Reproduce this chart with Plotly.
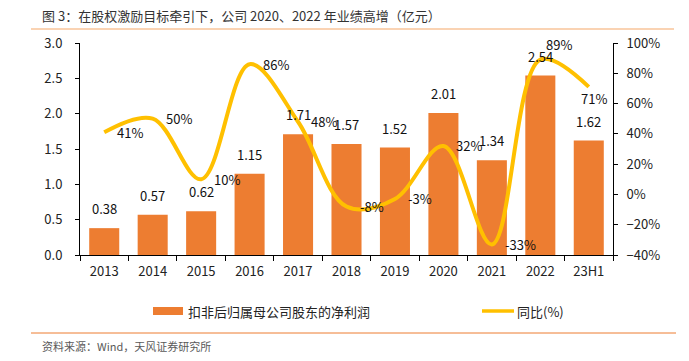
import plotly.graph_objects as go

categories = ["2013", "2014", "2015", "2016", "2017", "2018", "2019", "2020", "2021", "2022", "23H1"]
profit = [0.38, 0.57, 0.62, 1.15, 1.71, 1.57, 1.52, 2.01, 1.34, 2.54, 1.62]
yoy = [41, 50, 10, 86, 48, -8, -3, 32, -33, 89, 71]
bar_name = "扣非后归属母公司股东的净利润"
line_name = "同比(%)"
title_text = "图 3：在股权激励目标牵引下，公司 2020、2022 年业绩高增（亿元）"
source_text = "资料来源：Wind，天风证券研究所"

FW, FH = 689, 361
L, R, T, B = 80, 613, 43, 255
PW, PH = R - L, B - T


def px(x):
    return (x - L) / PW


def py(y):
    return (B - y) / PH


FONT = "Noto Sans CJK SC, Noto Sans, sans-serif"
BAR_C = "#ED7D31"
LINE_C = "#FFC000"

fig = go.Figure()
fig.add_trace(go.Bar(x=categories, y=profit, marker=dict(color=BAR_C, line=dict(width=0)),
                     name=bar_name, showlegend=False, yaxis="y", hoverinfo="skip"))
fig.add_trace(go.Scatter(x=categories, y=yoy, mode="lines", name=line_name,
                         line=dict(color=LINE_C, width=4, shape="spline", smoothing=1.0),
                         showlegend=False, yaxis="y2", hoverinfo="skip"))

ann = []
# bar labels
for i, v in enumerate(profit):
    ann.append(dict(x=i, y=v, xref="x", yref="y", text=f"{v:.2f}", showarrow=False,
                    xanchor="center", yanchor="bottom", yshift=8,
                    font=dict(size=13, color="#111111", family=FONT)))
# line labels
shifts = {9: (4, 15), 10: (-10, -12)}
for i, v in enumerate(yoy):
    xs, ys = shifts.get(i, (11, 0))
    ann.append(dict(x=i, y=v, xref="x", yref="y2", text=f"{v}%", showarrow=False,
                    xanchor="left", yanchor="middle", xshift=xs, yshift=ys,
                    font=dict(size=13, color="#111111", family=FONT)))
# title
ann.append(dict(x=px(40), y=py(15), xref="paper", yref="paper", text=title_text, showarrow=False,
                xanchor="left", yanchor="middle", font=dict(size=13, color="#333333", family=FONT)))
# source
ann.append(dict(x=px(40), y=py(346), xref="paper", yref="paper", text=source_text, showarrow=False,
                xanchor="left", yanchor="middle", font=dict(size=11, color="#595959", family=FONT)))
# legend texts
ann.append(dict(x=px(186), y=py(311), xref="paper", yref="paper", text=bar_name, showarrow=False,
                xanchor="left", yanchor="middle", font=dict(size=13, color="#222222", family=FONT)))
ann.append(dict(x=px(515), y=py(311), xref="paper", yref="paper", text=line_name, showarrow=False,
                xanchor="left", yanchor="middle", font=dict(size=13, color="#222222", family=FONT)))

shapes = [
    dict(type="line", xref="paper", yref="paper", x0=px(31), x1=px(674), y0=py(29), y1=py(29),
         line=dict(color="#F9C49A", width=1.5)),
    dict(type="line", xref="paper", yref="paper", x0=px(31), x1=px(676), y0=py(333), y1=py(333),
         line=dict(color="#ED7D31", width=1)),
    dict(type="rect", xref="paper", yref="paper", x0=px(153), x1=px(183), y0=py(315), y1=py(307),
         fillcolor=BAR_C, line=dict(width=0)),
    dict(type="line", xref="paper", yref="paper", x0=px(482), x1=px(514), y0=py(311), y1=py(311),
         line=dict(color=LINE_C, width=3.5)),
]

fig.update_layout(
    width=FW, height=FH,
    margin=dict(l=L, r=FW - R, t=T, b=FH - B, pad=0),
    paper_bgcolor="white", plot_bgcolor="white",
    bargap=0.38,
    showlegend=False,
    hovermode=False,
    font=dict(family=FONT, size=13, color="#222222"),
    xaxis=dict(type="category", range=[-0.5, len(categories) - 0.5], showline=True,
               linecolor="#000000", linewidth=1, automargin=False,
               ticks="outside", ticklen=5, tickcolor="#000000", tickson="boundaries",
               showgrid=False, tickfont=dict(size=13, color="#222222"), ticklabelstandoff=4,
               tickangle=0),
    yaxis=dict(range=[0, 3], dtick=0.5, tickformat=".1f", showline=True, linecolor="#000000",
               linewidth=1, ticks="outside", ticklen=4, tickcolor="#000000", showgrid=False,
               zeroline=False, tickfont=dict(size=13, color="#222222"), ticklabelstandoff=10,
               automargin=False),
    yaxis2=dict(range=[-40, 100], dtick=20, ticksuffix="%", overlaying="y", side="right",
                showline=True, linecolor="#000000", linewidth=1, ticks="outside", ticklen=4,
                tickcolor="#000000", showgrid=False, zeroline=False, automargin=False,
                tickfont=dict(size=13, color="#222222"), ticklabelstandoff=6),
    annotations=ann,
    shapes=shapes,
)

fig.write_html("out.html",
               config={"displayModeBar": False, "staticPlot": True},
               post_script="document.body.style.margin='0';document.body.style.padding='0';"
                           "document.body.style.overflow='hidden';")
